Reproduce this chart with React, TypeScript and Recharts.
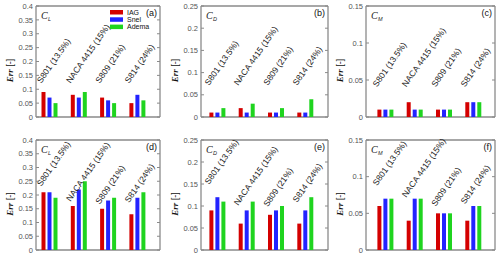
import React from "react";
import { Bar, CartesianGrid, ComposedChart, Scatter, XAxis, YAxis } from "recharts";

// airfoil cases shared by every panel
const airfoils = ["S801 (13.5%)", "NACA 4415 (15%)", "S809 (21%)", "S814 (24%)"];
const models = ["IAG", "Snel", "Adema"];
const colors = ["#d40000", "#2323ff", "#1fd41f"];

// error values, [IAG, Snel, Adema] per airfoil
const clTop = [[0.09, 0.07, 0.05], [0.08, 0.07, 0.09], [0.07, 0.06, 0.05], [0.05, 0.08, 0.06]];
const cdTop = [[0.01, 0.01, 0.02], [0.02, 0.01, 0.03], [0.01, 0.01, 0.02], [0.01, 0.01, 0.04]];
const cmTop = [[0.01, 0.01, 0.01], [0.02, 0.01, 0.01], [0.01, 0.01, 0.01], [0.02, 0.02, 0.02]];
const clBot = [[0.21, 0.21, 0.19], [0.16, 0.22, 0.25], [0.15, 0.18, 0.19], [0.13, 0.19, 0.21]];
const cdBot = [[0.09, 0.12, 0.11], [0.06, 0.09, 0.11], [0.08, 0.09, 0.1], [0.06, 0.09, 0.12]];
const cmBot = [[0.06, 0.07, 0.07], [0.04, 0.07, 0.07], [0.05, 0.05, 0.05], [0.04, 0.06, 0.06]];

// height where each rotated airfoil name starts
const labelA = [0.12, 0.12, 0.12, 0.12];
const labelB = [0.07, 0.07, 0.07, 0.07];
const labelC = [0.04, 0.04, 0.04, 0.04];
const labelD = [0.23, 0.175, 0.165, 0.17];
const labelE = [0.148, 0.1, 0.097, 0.107];
const labelF = [0.087, 0.071, 0.059, 0.062];

const clTicks = [0, 0.05, 0.1, 0.15, 0.2, 0.25, 0.3, 0.35, 0.4];
const cdTicks = [0, 0.05, 0.1, 0.15, 0.2, 0.25];
const cmTicks = [0, 0.05, 0.1, 0.15];

const cols = [
  { x: 36, w: 124, pl: -1.5, pr: 8.3 },
  { x: 201, w: 127, pl: 1.4, pr: 8.4 },
  { x: 366, w: 129, pl: 4.4, pr: 7.4 },
];
const rows = [
  { y: 6, h: 111 },
  { y: 140, h: 110 },
];

const panels = [
  { id: "a", sub: "L", vals: clTop, lab: labelA, ticks: clTicks, c: 0, r: 0 },
  { id: "b", sub: "D", vals: cdTop, lab: labelB, ticks: cdTicks, c: 1, r: 0 },
  { id: "c", sub: "M", vals: cmTop, lab: labelC, ticks: cmTicks, c: 2, r: 0 },
  { id: "d", sub: "L", vals: clBot, lab: labelD, ticks: clTicks, c: 0, r: 1 },
  { id: "e", sub: "D", vals: cdBot, lab: labelE, ticks: cdTicks, c: 1, r: 1 },
  { id: "f", sub: "M", vals: cmBot, lab: labelF, ticks: cmTicks, c: 2, r: 1 },
];

const AXW = 26;
const SANS = "Liberation Sans, Arial, sans-serif";
const SERIF = "Liberation Serif, Times New Roman, serif";

const NameLabel = (props: any) => {
  const { cx, cy, payload } = props;
  const x = cx - 8;
  return (
    <text x={x} y={cy} transform={`rotate(-55, ${x}, ${cy})`} fontSize={8.5} fontFamily={SANS} fill="#222">
      {payload.name}
    </text>
  );
};

function Panel({ p }: { p: (typeof panels)[number] }) {
  const col = cols[p.c];
  const row = rows[p.r];
  const ymax = p.ticks[p.ticks.length - 1];
  const data = airfoils.map((name, i) => ({
    name,
    IAG: p.vals[i][0],
    Snel: p.vals[i][1],
    Adema: p.vals[i][2],
    lab: p.lab[i],
  }));

  // tick label outside, short tick marks inside on both edges
  const Tick = (t: any) => (
    <g>
      <text x={t.x} y={t.y} dy="0.35em" textAnchor="end" fontSize={7.5} fontFamily={SANS} fill="#555">
        {t.payload.value}
      </text>
      <line x1={AXW} x2={AXW + 3} y1={t.y} y2={t.y} stroke="#8a8a8a" strokeWidth={1} />
      <line x1={AXW + col.w - 3} x2={AXW + col.w} y1={t.y} y2={t.y} stroke="#8a8a8a" strokeWidth={1} />
    </g>
  );

  return (
    <div style={{ position: "absolute", left: col.x - AXW, top: row.y - 6 }}>
      <ComposedChart
        width={AXW + col.w + 4}
        height={row.h + 10}
        data={data}
        margin={{ top: 6, right: 4, bottom: 4, left: 0 }}
        barSize={4}
        barGap={2}
      >
        <CartesianGrid
          stroke="#8a8a8a"
          strokeWidth={1.3}
          horizontalCoordinatesGenerator={({ offset }: any) => [offset.top, offset.top + offset.height]}
          verticalCoordinatesGenerator={({ offset }: any) => [offset.left, offset.left + offset.width]}
        />
        <XAxis dataKey="name" hide padding={{ left: col.pl, right: col.pr }} />
        <YAxis
          width={AXW}
          domain={[0, ymax]}
          ticks={p.ticks}
          axisLine={false}
          tickLine={false}
          tickSize={0}
          tickMargin={3}
          interval={0}
          tick={Tick}
        />
        {models.map((m, i) => (
          <Bar key={m} dataKey={m} fill={colors[i]} isAnimationActive={false} />
        ))}
        <Scatter dataKey="lab" shape={NameLabel} isAnimationActive={false} />
      </ComposedChart>
    </div>
  );
}

function Notes() {
  return (
    <svg width={500} height={257} style={{ position: "absolute", left: 0, top: 0, pointerEvents: "none" }}>
      {panels.map((p) => {
        const col = cols[p.c];
        const row = rows[p.r];
        const ey = row.y + row.h / 2 + 9;
        const ex = col.x - 23;
        return (
          <g key={p.id}>
            <text transform={`translate(${ex}, ${ey}) rotate(-90)`} textAnchor="middle" fontSize={9} fill="#111">
              <tspan fontFamily={SERIF} fontStyle="italic" fontWeight="bold">
                Err
              </tspan>
              <tspan fontFamily={SANS}> [-]</tspan>
            </text>
            <text x={col.x + 5} y={row.y + 13} fontSize={10} fontFamily={SERIF} fontStyle="italic" fill="#222">
              C
            </text>
            <text x={col.x + 12} y={row.y + 15} fontSize={5.5} fontFamily={SANS} fontStyle="italic" fill="#222">
              {p.sub}
            </text>
            <text
              x={col.x + col.w - 3}
              y={row.y + 10}
              textAnchor="end"
              fontSize={9}
              fontFamily={SANS}
              fill="#111"
            >
              ({p.id})
            </text>
          </g>
        );
      })}
      {models.map((m, i) => (
        <g key={m}>
          <rect x={110} y={10 + i * 7.3} width={13} height={4.5} fill={colors[i]} />
          <text x={127} y={14.5 + i * 7.3} fontSize={7} fontFamily={SANS} fill="#111">
            {m}
          </text>
        </g>
      ))}
    </svg>
  );
}

export default function App() {
  return (
    <div style={{ position: "absolute", left: 0, top: 0, width: 500, height: 257, background: "#fff" }}>
      {panels.map((p) => (
        <Panel key={p.id} p={p} />
      ))}
      <Notes />
    </div>
  );
}
